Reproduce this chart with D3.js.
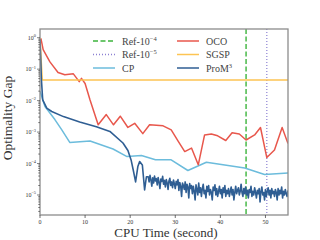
<!DOCTYPE html>
<html>
<head>
<meta charset="utf-8">
<script src="https://cdn.jsdelivr.net/npm/d3@7"></script>
<style>
  body { margin: 0; background: #fff; }
  svg { display: block; font-family: "Liberation Serif", "DejaVu Serif", serif; }
</style>
</head>
<body>
<div id="chart"></div>
<script>
// data
var xTicks = [0, 10, 20, 30, 40, 50];
var yMajorExp = [0, -1, -2, -3, -4, -5];

var refTimes = [45.7, 50.3];

var sgspTimes = [0, 0.5, 55];
var sgspValues = [1.0, 0.045, 0.045];

var cpTimes = [0, 1.1, 3.3, 4.8, 6.6, 11.1, 16.2, 19.3, 22.5, 25.6, 29.0, 32.8, 36.9, 40.6, 45.4, 49.8, 55];
var cpValues = [0.02, 0.0065, 0.0025, 0.0012, 0.00047, 0.00052, 0.00029, 0.000166, 0.00018, 0.000132, 0.000132, 0.00006, 0.00011, 0.000091, 0.000072, 0.000045, 0.00005];

var ocoTimes = [0.2, 0.7, 2.2, 4.0, 5.5, 7.4, 8.7, 9.2, 10.0, 11.1, 12.9, 14.7, 16.3, 17.8, 19.5, 21.0, 22.8, 24.3, 27.3, 29.1, 30.7, 32.1, 33.6, 35.1, 36.5, 38.0, 39.4, 41.2, 42.6, 44.2, 45.7, 47.6, 48.9, 50.3, 52.0, 53.7, 55];
var ocoValues = [0.95, 0.42, 0.17, 0.078, 0.066, 0.071, 0.040, 0.051, 0.035, 0.0105, 0.0017, 0.0036, 0.0017, 0.0032, 0.0014, 0.0019, 0.00089, 0.0017, 0.00158, 0.00117, 0.0005, 0.00024, 0.00031, 0.000091, 0.00081, 0.00087, 0.00076, 0.00054, 0.00095, 0.00087, 0.00056, 0.00081, 0.0014, 0.000155, 0.00027, 0.0014, 0.00043];

var promTimes = [0, 0.3, 0.6, 1.5, 2.6, 5.2, 8.8, 12.5, 15.5, 18.4, 19.5, 20.2, 20.7, 21.2, 21.7, 22.1, 22.7, 23.2, 23.6];
var promValues = [0.9, 0.05, 0.0105, 0.0058, 0.0045, 0.0031, 0.0021, 0.00148, 0.00105, 0.00045, 0.00026, 0.00013, 0.00006, 0.000026, 0.00008, 0.000115, 0.00009, 0.0000145, 0.000038];

// noisy tail of ProM3, one value every 0.2 s from 24 s to 55 s
var promTailStart = 24, promTailStep = 0.2;
var promTailValues = [
  3.8e-5, 2.6e-5, 4.2e-5, 3.0e-5, 1.9e-5, 3.5e-5, 2.4e-5, 4.0e-5, 2.8e-5, 3.3e-5,
  2.1e-5, 3.6e-5, 2.5e-5, 1.6e-5, 3.2e-5, 2.7e-5, 3.9e-5, 2.2e-5, 2.9e-5, 1.8e-5,
  3.1e-5, 2.4e-5, 1.5e-5, 2.8e-5, 3.4e-5, 2.0e-5, 2.6e-5, 1.7e-5, 3.0e-5, 2.3e-5,
  1.6e-5, 2.7e-5, 2.1e-5, 3.1e-5, 1.4e-5, 2.5e-5, 1.9e-5, 0.9e-5, 2.4e-5, 2.0e-5,
  1.5e-5, 2.6e-5, 1.2e-5, 2.2e-5, 1.8e-5, 0.8e-5, 2.3e-5, 1.6e-5, 2.0e-5, 1.1e-5,
  1.9e-5, 1.3e-5, 0.7e-5, 2.1e-5, 1.5e-5, 1.0e-5, 2.4e-5, 1.2e-5, 1.7e-5, 0.9e-5,
  1.6e-5, 2.2e-5, 1.1e-5, 1.4e-5, 0.8e-5, 1.9e-5, 1.3e-5, 2.0e-5, 1.0e-5, 1.5e-5,
  1.2e-5, 0.7e-5, 1.8e-5, 1.4e-5, 2.1e-5, 1.0e-5, 1.6e-5, 0.9e-5, 1.3e-5, 1.9e-5,
  1.1e-5, 1.5e-5, 0.8e-5, 1.7e-5, 1.2e-5, 2.0e-5, 0.9e-5, 1.4e-5, 1.1e-5, 1.6e-5,
  0.9e-5, 1.3e-5, 1.8e-5, 1.0e-5, 1.5e-5, 0.7e-5, 1.2e-5, 1.9e-5, 1.1e-5, 1.4e-5,
  1.7e-5, 1.0e-5, 1.3e-5, 2.2e-5, 1.2e-5, 0.9e-5, 1.6e-5, 1.1e-5, 1.8e-5, 1.0e-5,
  1.4e-5, 0.8e-5, 1.5e-5, 1.2e-5, 1.9e-5, 0.9e-5, 1.3e-5, 1.0e-5, 1.7e-5, 1.2e-5,
  0.8e-5, 1.4e-5, 1.1e-5, 1.6e-5, 0.6e-5, 1.3e-5, 1.8e-5, 1.0e-5, 1.2e-5, 0.7e-5,
  1.5e-5, 0.9e-5, 1.3e-5, 1.7e-5, 1.0e-5, 1.4e-5, 0.8e-5, 1.6e-5, 1.1e-5, 1.3e-5,
  0.9e-5, 1.5e-5, 1.2e-5, 0.7e-5, 1.6e-5, 1.0e-5, 1.4e-5, 1.1e-5, 1.8e-5, 0.8e-5,
  1.3e-5, 1.0e-5, 1.5e-5, 1.1e-5, 0.9e-5, 1.4e-5
];

var colors = {
  ref4: "#3cb43c", ref5: "#8c80d2", cp: "#6cbcdc",
  oco: "#e8574c", sgsp: "#fdc453", prom: "#2f5e93"
};

var width = 320, height = 240;
var margin = { top: 29, right: 32, bottom: 25, left: 40 };
var iw = width - margin.left - margin.right;
var ih = height - margin.top - margin.bottom;

var svg = d3.select("#chart").append("svg")
  .attr("width", width)
  .attr("height", height);

var x = d3.scaleLinear().domain([0, 55]).range([0, iw]);
var y = d3.scaleLog().domain([2.31e-6, 1.89]).range([ih, 0]);

var g = svg.append("g")
  .attr("transform", "translate(" + margin.left + "," + margin.top + ")");

g.append("clipPath").attr("id", "clip")
  .append("rect").attr("width", iw).attr("height", ih);

var plot = g.append("g").attr("clip-path", "url(#clip)");

function zip(ts, vs) {
  return ts.map(function (t, i) { return [t, vs[i]]; });
}

var line = d3.line()
  .x(function (d) { return x(d[0]); })
  .y(function (d) { return y(d[1]); });

// reference lines
plot.append("line")
  .attr("x1", x(refTimes[0])).attr("x2", x(refTimes[0]))
  .attr("y1", 0).attr("y2", ih)
  .attr("stroke", colors.ref4).attr("stroke-width", 1.4)
  .attr("stroke-dasharray", "5,2.5");
plot.append("line")
  .attr("x1", x(refTimes[1])).attr("x2", x(refTimes[1]))
  .attr("y1", 0).attr("y2", ih)
  .attr("stroke", colors.ref5).attr("stroke-width", 1.2)
  .attr("stroke-dasharray", "1,2");

var promTail = promTailValues.map(function (v, i) {
  return [promTailStart + i * promTailStep, v];
});

var series = [
  { key: "cp", data: zip(cpTimes, cpValues), w: 1.5 },
  { key: "oco", data: zip(ocoTimes, ocoValues), w: 1.5 },
  { key: "sgsp", data: zip(sgspTimes, sgspValues), w: 1.5 },
  { key: "prom", data: zip(promTimes, promValues).concat(promTail), w: 1.6 }
];

series.forEach(function (s) {
  plot.append("path")
    .attr("d", line(s.data))
    .attr("fill", "none")
    .attr("stroke", colors[s.key])
    .attr("stroke-width", s.w)
    .attr("stroke-linejoin", "round");
});

// axes frame
g.append("rect")
  .attr("width", iw).attr("height", ih)
  .attr("fill", "none")
  .attr("stroke", "#8c8c8c")
  .attr("stroke-width", 1.3);

// x ticks
xTicks.forEach(function (t) {
  g.append("line")
    .attr("x1", x(t)).attr("x2", x(t))
    .attr("y1", ih).attr("y2", ih + 3)
    .attr("stroke", "#333").attr("stroke-width", 0.7);
  g.append("text")
    .attr("x", x(t)).attr("y", ih + 8.5)
    .attr("text-anchor", "middle")
    .attr("font-size", 6)
    .attr("fill", "#333")
    .text(t);
});

// y ticks, majors and minors
var yDom = y.domain();
for (var e = -6; e <= 0; e++) {
  for (var k = 1; k <= 9; k++) {
    var v = k * Math.pow(10, e);
    if (v < yDom[0] || v > yDom[1]) continue;
    g.append("line")
      .attr("x1", 0).attr("x2", k === 1 ? -3 : -1.8)
      .attr("y1", y(v)).attr("y2", y(v))
      .attr("stroke", "#333").attr("stroke-width", 0.6);
  }
}

yMajorExp.forEach(function (ex) {
  var t = g.append("text")
    .attr("x", -4).attr("y", y(Math.pow(10, ex)) + 2)
    .attr("text-anchor", "end")
    .attr("font-size", 6)
    .attr("fill", "#333");
  t.append("tspan").text("10");
  t.append("tspan").attr("dy", -2.5).attr("font-size", 4.3)
    .text(ex === 0 ? "0" : "\u2212" + Math.abs(ex));
});

// axis labels
svg.append("text")
  .attr("x", margin.left + iw / 2 + 2).attr("y", 237)
  .attr("text-anchor", "middle")
  .attr("font-size", 13)
  .attr("fill", "#333")
  .text("CPU Time (second)");

svg.append("text")
  .attr("transform", "translate(12," + (margin.top + ih / 2 - 4) + ") rotate(-90)")
  .attr("text-anchor", "middle")
  .attr("font-size", 13.5)
  .attr("fill", "#333")
  .text("Optimality Gap");

// legend
var legendItems = [
  { key: "ref4", label: "Ref-10", sup: "\u22124", dash: "5,2.5", col: 0, row: 0 },
  { key: "ref5", label: "Ref-10", sup: "\u22125", dash: "1,2", col: 0, row: 1 },
  { key: "cp", label: "CP", sup: "", dash: null, col: 0, row: 2 },
  { key: "oco", label: "OCO", sup: "", dash: null, col: 1, row: 0 },
  { key: "sgsp", label: "SGSP", sup: "", dash: null, col: 1, row: 1 },
  { key: "prom", label: "ProM", sup: "3", dash: null, col: 1, row: 2 }
];
var colX = [93, 177];
var rowY = [41, 54.5, 68];

legendItems.forEach(function (d) {
  var lx = colX[d.col], ly = rowY[d.row];
  svg.append("line")
    .attr("x1", lx).attr("x2", lx + 22)
    .attr("y1", ly).attr("y2", ly)
    .attr("stroke", colors[d.key])
    .attr("stroke-width", 1.5)
    .attr("stroke-dasharray", d.dash);
  var t = svg.append("text")
    .attr("x", lx + 29).attr("y", ly + 3.5)
    .attr("font-size", 10)
    .attr("fill", "#444");
  t.append("tspan").text(d.label);
  if (d.sup) {
    t.append("tspan").attr("dy", -4).attr("font-size", 6.5).text(d.sup);
  }
});
</script>
</body>
</html>
